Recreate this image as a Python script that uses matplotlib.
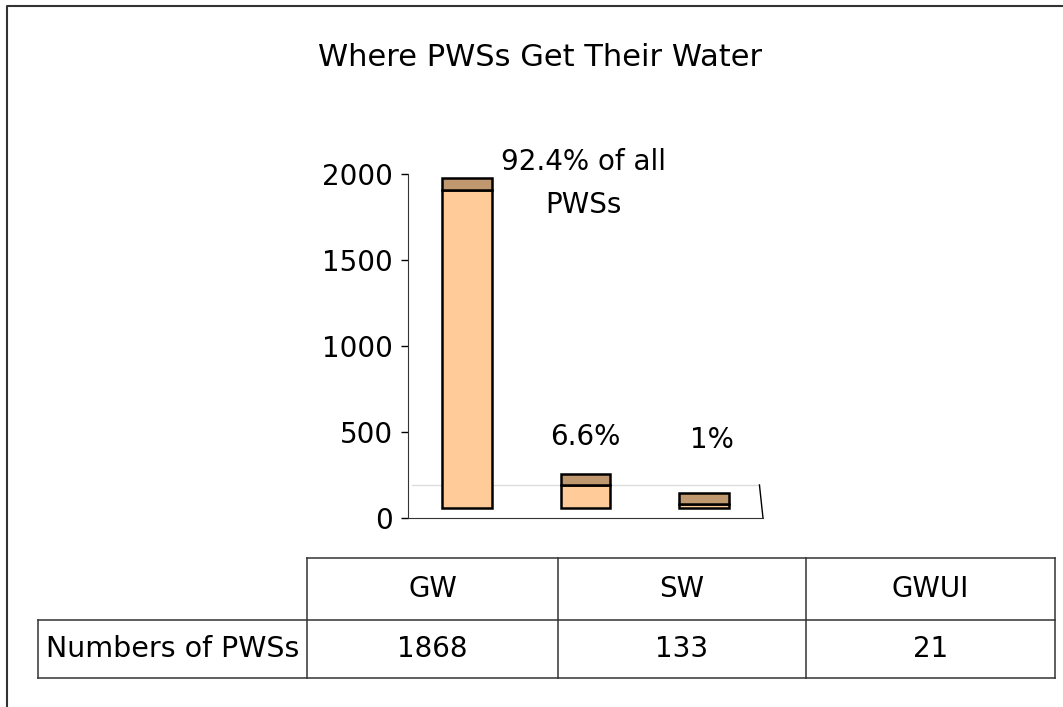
import matplotlib.pyplot as plt

plt.rcParams['font.family'] = ['DejaVu Sans']

categories = ['GW', 'SW', 'GWUI']
counts = [1868, 133, 21]
pct_labels = ['92.4% of all\nPWSs', '6.6%', '1%']
yticks = [0, 500, 1000, 1500, 2000]
row_label = 'Numbers of PWSs'
title = 'Where PWSs Get Their Water'

front_color = '#FFCC99'
top_color = '#C09870'
base = 58      # 3d floor offset of the bar fronts
depth = 68     # visible depth of the bar tops
bar_w = 0.42

W, H = 1063, 707
fig = plt.figure(figsize=(W / 100, H / 100), dpi=100)

# main bar axes, placed in pixels
x0, x1, ytop, ybot = 408, 763, 174, 518
ax = fig.add_axes([x0 / W, (H - ybot) / H, (x1 - x0) / W, (ybot - ytop) / H])
ax.set_xlim(0, 3)
ax.set_ylim(0, 2000)

for i, v in enumerate(counts):
    c = i + 0.5
    # front face
    ax.bar(c, v * 0.99, bottom=base, width=bar_w, color=front_color,
           edgecolor='black', linewidth=1.8, zorder=3)
    # top face
    ax.bar(c, depth, bottom=base + v * 0.99, width=bar_w, color=top_color,
           edgecolor='black', linewidth=1.8, zorder=3)

# back edge of the floor and right side
ax.plot([0.03, 2.97], [192, 192], color='#dddddd', lw=1, zorder=1)
ax.plot([2.97, 3.0], [192, 0], color='black', lw=1, zorder=1, clip_on=False)

ax.spines['top'].set_visible(False)
ax.spines['right'].set_visible(False)
ax.spines['left'].set_color('#333333')
ax.spines['bottom'].set_color('#333333')
ax.set_xticks([])
ax.set_yticks(yticks)
ax.tick_params(axis='y', direction='out', length=5, width=1, labelsize=20, pad=6)

# percentage labels
ax.text(1.48, 1945, pct_labels[0], ha='center', va='center', fontsize=20,
        linespacing=1.65)
ax.text(1.5, 472, pct_labels[1], ha='center', va='center', fontsize=20)
ax.text(2.57, 455, pct_labels[2], ha='center', va='center', fontsize=20)

# overlay in pixel coords for title, frame and table
ov = fig.add_axes([0, 0, 1, 1], zorder=-1)
ov.set_xlim(0, W)
ov.set_ylim(H, 0)
ov.axis('off')

ov.text(540, 58, title, ha='center', va='center', fontsize=22)

# outer frame
ov.plot([7, 7, W], [H, 6, 6], color='#333333', lw=1.5)

# table
col_edges = [307, 558, 806, 1055]
row_y = [558, 620, 678]
lc = '#333333'
ov.plot([col_edges[0], col_edges[-1]], [row_y[0], row_y[0]], color=lc, lw=1.1)
ov.plot([38, col_edges[-1]], [row_y[1], row_y[1]], color=lc, lw=1.1)
ov.plot([38, col_edges[-1]], [row_y[2], row_y[2]], color=lc, lw=1.1)
for x in col_edges:
    ov.plot([x, x], [row_y[0], row_y[2]], color=lc, lw=1.1)
ov.plot([38, 38], [row_y[1], row_y[2]], color=lc, lw=1.1)

for i, cat in enumerate(categories):
    cx = (col_edges[i] + col_edges[i + 1]) / 2
    ov.text(cx, (row_y[0] + row_y[1]) / 2, cat, ha='center', va='center', fontsize=20)
    ov.text(cx, (row_y[1] + row_y[2]) / 2, str(counts[i]), ha='center', va='center', fontsize=20)
ov.text((38 + col_edges[0]) / 2, (row_y[1] + row_y[2]) / 2, row_label,
        ha='center', va='center', fontsize=20.5)

fig.savefig('out.png', dpi=100)
